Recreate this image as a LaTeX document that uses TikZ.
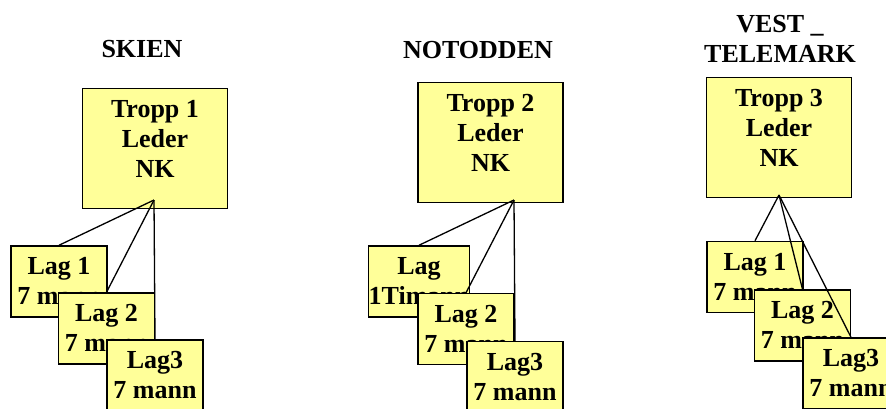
\documentclass[tikz,border=0pt]{standalone}
\usepackage{fontspec}
\setmainfont{Liberation Serif}
\definecolor{boxyellow}{RGB}{255,255,153}

\begin{document}
\begin{tikzpicture}[
  x = 1pt, y = -1pt,
  every node/.style = {font=\bfseries\fontsize{26}{30}\selectfont,align=center},
  troppbox/.style = {draw,fill=boxyellow,line width=1.5pt,minimum width=145pt,minimum height=120pt,text depth=19pt,inner sep=0pt},
  lagbox/.style = {draw,fill=boxyellow,line width=1.5pt,minimum width=96pt,minimum height=71pt,inner sep=0pt},
  link/.style = {line width=1.3pt}
  ]
  \path[use as bounding box] (0,0) rectangle (886,408);
  \clip (0,0) rectangle (886,408);
  \node (s1) at (142,49.5) {SKIEN};
  \node (s2) at (478,50) {NOTODDEN};
  \node (s3) at (780,39) {VEST \_\\TELEMARK};
  \node[troppbox] (@1) at (155,148.5) {Tropp 1\\Leder\\NK};
  \node[troppbox] (@2) at (490.5,142.5) {Tropp 2\\Leder\\NK};
  \node[troppbox] (@3) at (779,137.5) {Tropp 3\\Leder\\NK};
  \node[lagbox] (@11) at (59,281.5) {Lag 1\\7 mann};
  \node[lagbox] (@12) at (106.5,328.5) {Lag 2\\7 mann};
  \node[lagbox] (@13) at (155,375.5) {Lag3\\7 mann};
  \node[lagbox] (@21) at (419,281.5) {Lag\\1Timann};
  \node[lagbox] (@22) at (466,329) {Lag 2\\7 mann};
  \node[lagbox] (@23) at (515,377) {Lag3\\7 mann};
  \node[lagbox] (@31) at (755,277) {Lag 1\\7 mann};
  \node[lagbox] (@32) at (802.5,325.5) {Lag 2\\7 mann};
  \node[lagbox] (@33) at (851,373.5) {Lag3\\7 mann};
  \coordinate (a1) at (154,200);
  \coordinate (a2) at (514,200);
  \coordinate (a3) at (779,195);
  \draw[link] (a1) -- (@11.north);
  \draw[link] (a1) -- (@12.north);
  \draw[link] (a1) -- (@13.north);
  \draw[link] (a2) -- (@21.north);
  \draw[link] (a2) -- (@22.north);
  \draw[link] (a2) -- (@23.north);
  \draw[link] (a3) -- (@31.north);
  \draw[link] (a3) -- (@32.north);
  \draw[link] (a3) -- (@33.north);
\end{tikzpicture}
\end{document}
